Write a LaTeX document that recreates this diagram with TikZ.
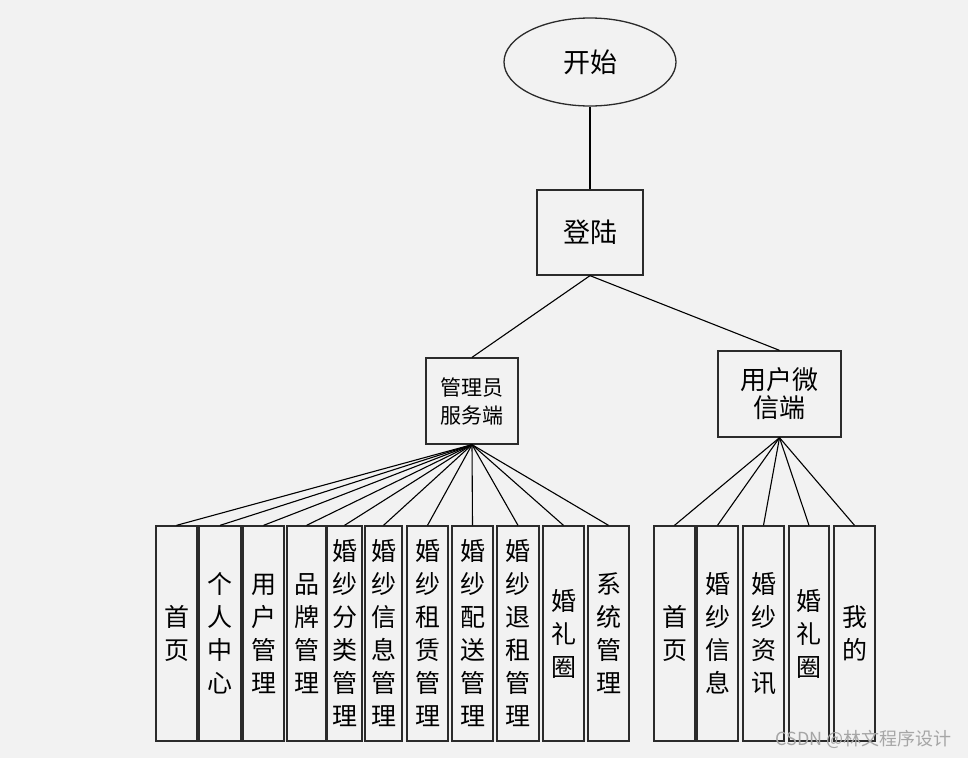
\documentclass[tikz,border=0pt]{standalone}
\usepackage{fontspec}
\setmainfont{Noto Sans CJK SC}
\usepackage{tikz}
\usetikzlibrary{shapes.geometric}

\definecolor{bg}{HTML}{F2F2F2}
\definecolor{edge}{HTML}{2B2B2B}

\begin{document}
\begin{tikzpicture}[
  x=1pt, y=-1pt,
  box/.style={draw=edge, line width=1.3pt, fill=bg, align=center, inner sep=1pt},
  col/.style={box, minimum height=215pt, font=\fontsize{25}{33}\selectfont},
  link/.style={line width=1.1pt}
]
% canvas
\fill[bg] (0,0) rectangle (968,758);
\useasboundingbox (0,0) rectangle (968,758);

% top
\node[box, ellipse, minimum width=172pt, minimum height=88pt, font=\fontsize{27}{30}\selectfont] (start) at (590,62) {开始};
\node[box, minimum width=106pt, minimum height=85pt, font=\fontsize{27}{30}\selectfont] (login) at (590,232.5) {登陆};
\node[box, minimum width=92pt, minimum height=86pt, font=\fontsize{21}{28}\selectfont] (admin) at (472,401) {管理员\\服务端};
\node[box, minimum width=123pt, minimum height=86pt, font=\fontsize{26}{28}\selectfont] (user) at (779.5,394) {用户微\\信端};

% admin modules
\node[col, minimum width=41pt] (a1) at (176.5,633.5) {首\\页};
\node[col, minimum width=42pt] (a2) at (220,633.5) {个\\人\\中\\心};
\node[col, minimum width=41pt] (a3) at (263.5,633.5) {用\\户\\管\\理};
\node[col, minimum width=39pt] (a4) at (306.5,633.5) {品\\牌\\管\\理};
\node[col, minimum width=35pt] (a5) at (344.5,633.5) {婚\\纱\\分\\类\\管\\理};
\node[col, minimum width=37pt] (a6) at (383.5,633.5) {婚\\纱\\信\\息\\管\\理};
\node[col, minimum width=41pt] (a7) at (427.5,633.5) {婚\\纱\\租\\赁\\管\\理};
\node[col, minimum width=41pt] (a8) at (472.5,633.5) {婚\\纱\\配\\送\\管\\理};
\node[col, minimum width=42pt] (a9) at (518,633.5) {婚\\纱\\退\\租\\管\\理};
\node[col, minimum width=41pt] (a10) at (563.5,633.5) {婚\\礼\\圈};
\node[col, minimum width=41pt] (a11) at (608.5,633.5) {系\\统\\管\\理};

% user modules
\node[col, minimum width=41pt] (u1) at (674.5,633.5) {首\\页};
\node[col, minimum width=41pt] (u2) at (717.5,633.5) {婚\\纱\\信\\息};
\node[col, minimum width=41pt] (u3) at (763.5,633.5) {婚\\纱\\资\\讯};
\node[col, minimum width=40pt] (u4) at (809,633.5) {婚\\礼\\圈};
\node[col, minimum width=41pt] (u5) at (854.5,633.5) {我\\的};

% links
\draw[link] (start) -- (login);
\draw[link] (login.south) -- (admin.north);
\draw[link] (login.south) -- (user.north);
\draw[link] (admin.south) -- (a1.north);
\draw[link] (admin.south) -- (a2.north);
\draw[link] (admin.south) -- (a3.north);
\draw[link] (admin.south) -- (a4.north);
\draw[link] (admin.south) -- (a5.north);
\draw[link] (admin.south) -- (a6.north);
\draw[link] (admin.south) -- (a7.north);
\draw[link] (admin.south) -- (a8.north);
\draw[link] (admin.south) -- (a9.north);
\draw[link] (admin.south) -- (a10.north);
\draw[link] (admin.south) -- (a11.north);
\draw[link] (user.south) -- (u1.north);
\draw[link] (user.south) -- (u2.north);
\draw[link] (user.south) -- (u3.north);
\draw[link] (user.south) -- (u4.north);
\draw[link] (user.south) -- (u5.north);

% watermark
\node[text=black!35, font=\fontsize{18}{20}\selectfont, anchor=east, inner sep=0pt] (mark) at (952,739) {CSDN @林文程序设计};
\end{tikzpicture}
\end{document}
